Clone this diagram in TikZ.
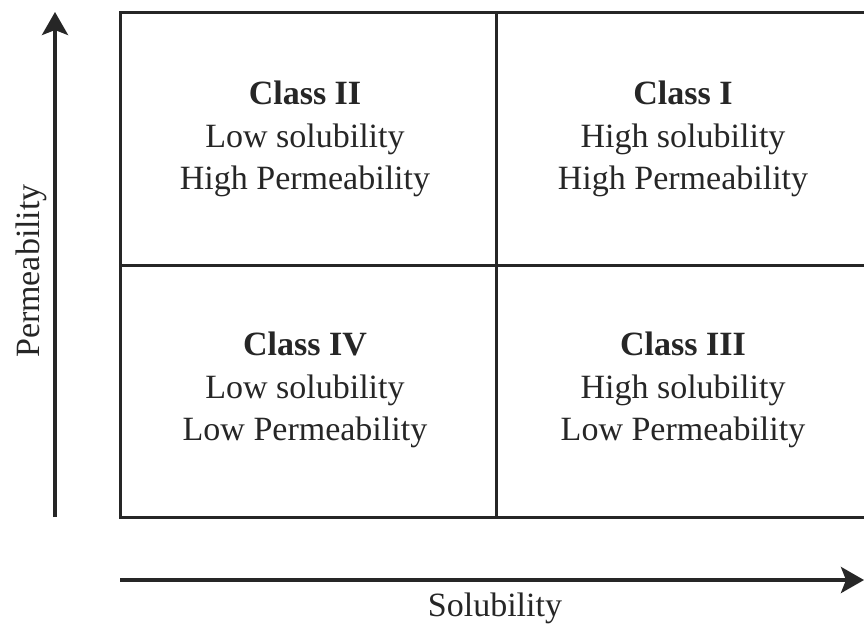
\documentclass[tikz,border=0pt]{standalone}
\usepackage{fontspec}
\setmainfont{Liberation Serif}
\usetikzlibrary{arrows.meta}
\tikzset{
  gridline/.style={line width=3pt, draw=black!85},
  axisarrow/.style={line width=3.8pt, draw=black!85, -{Stealth[length=23pt,width=26pt,inset=5pt]}},
  celltext/.style={align=center, font=\fontsize{34}{42.5}\selectfont, text=black!85, inner sep=0pt},
  axislabel/.style={font=\fontsize{34}{41}\selectfont, text=black!85, inner sep=0pt}
}
\begin{document}
\begin{tikzpicture}[x=1pt,y=-1pt]
\useasboundingbox (0,0) rectangle (864,630);
\fill[white] (0,0) rectangle (864,630);
% grid
\coordinate (tl) at (120,12);
\coordinate (br) at (872,517);
\coordinate (mt) at (496,12);
\coordinate (mb) at (496,517);
\coordinate (ml) at (120,265);
\coordinate (mr) at (872,265);
\begin{scope}
\clip (0,0) rectangle (864,630);
\draw[gridline] (tl) rectangle (br);
\draw[gridline] (mt) -- (mb);
\draw[gridline] (ml) -- (mr);
\end{scope}
% cell texts
\node[celltext] (c2) at (305,139) {\textbf{Class II}\\Low solubility\\High Permeability};
\node[celltext] (c1) at (683,139) {\textbf{Class I}\\High solubility\\High Permeability};
\node[celltext] (c4) at (305,390) {\textbf{Class IV}\\Low solubility\\Low Permeability};
\node[celltext] (c3) at (683,390) {\textbf{Class III}\\High solubility\\Low Permeability};
% axes
\coordinate (vs) at (55,517);
\coordinate (ve) at (55,12);
\coordinate (hs) at (120,580);
\coordinate (he) at (864,580);
\draw[axisarrow] (vs) -- (ve);
\draw[axisarrow] (hs) -- (he);
\node[axislabel, rotate=90] (perm) at (31,271) {Permeability};
\node[axislabel] (sol) at (495,608) {Solubility};
\end{tikzpicture}
\end{document}
